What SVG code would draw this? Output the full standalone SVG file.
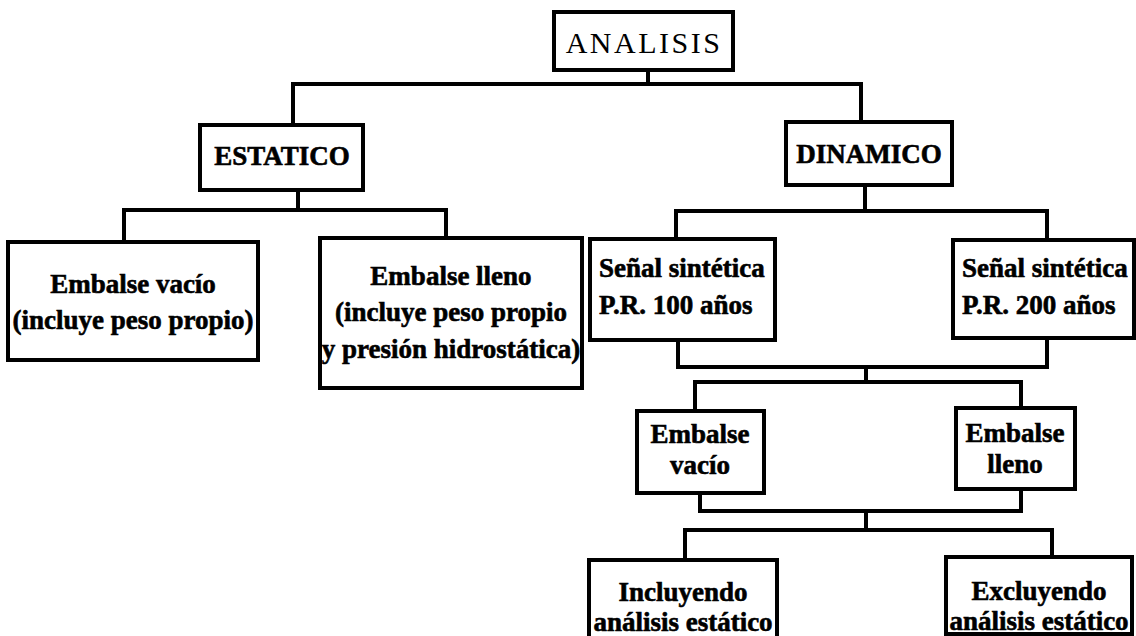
<svg xmlns="http://www.w3.org/2000/svg" width="1136" height="636" viewBox="0 0 1136 636">
  <style>
    .box { fill: #ffffff; stroke: #000000; stroke-width: 4; }
    .wire { fill: none; stroke: #000000; stroke-width: 4; stroke-linecap: square; }
    .t { font-family: "Liberation Serif", "Times New Roman", serif; fill: #000000; text-anchor: middle; }
    .b { font-weight: bold; font-size: 27px; stroke: #000000; stroke-width: 0.6px; }
    .l { text-anchor: start; }
    .root { font-size: 30px; letter-spacing: 2.5px; }
  </style>
  <rect width="1136" height="636" fill="#ffffff"/>

  <!-- tree connectors -->
  <g id="connectors" class="wire">
    <path d="M648 70 V84 M293 84 H861 M293 84 V125 M861 84 V122"/>
    <path d="M298 190 V210 M124 210 H446 M124 210 V242 M446 210 V238"/>
    <path d="M865 185 V211 M676 211 H1047 M676 211 V239 M1047 211 V240"/>
    <path d="M678 340 V367 M1047 338 V367 M678 367 H1047 M866 367 V382"/>
    <path d="M695 382 H1021 M695 382 V411 M1021 382 V408"/>
    <path d="M700 493 V511 M1021 489 V511 M700 511 H1021 M866 511 V530"/>
    <path d="M685 530 H1052 M685 530 V560 M1052 530 V557"/>
  </g>

  <g id="analisis">
    <rect class="box" x="554" y="12" width="179" height="58"/>
    <text class="t root" x="644" y="53">ANALISIS</text>
  </g>

  <g id="estatico">
    <rect class="box" x="200" y="125" width="163" height="65"/>
    <text class="t b" x="282" y="165">ESTATICO</text>
  </g>

  <g id="dinamico">
    <rect class="box" x="786" y="122" width="166" height="63"/>
    <text class="t b" x="869" y="163">DINAMICO</text>
  </g>

  <g id="embalse-vacio-estatico">
    <rect class="box" x="8" y="242" width="250" height="118"/>
    <text class="t b" x="133" y="293">Embalse vacío</text>
    <text class="t b" x="133" y="329">(incluye peso propio)</text>
  </g>

  <g id="embalse-lleno-estatico">
    <rect class="box" x="320" y="238" width="262" height="150"/>
    <text class="t b" x="451" y="285">Embalse lleno</text>
    <text class="t b" x="451" y="321">(incluye peso propio</text>
    <text class="t b" x="451" y="358">y presión hidrostática)</text>
  </g>

  <g id="senal-100">
    <rect class="box" x="590" y="239" width="185" height="101"/>
    <text class="t b l" x="599" y="277">Señal sintética</text>
    <text class="t b l" x="599" y="314">P.R. 100 años</text>
  </g>

  <g id="senal-200">
    <rect class="box" x="953" y="240" width="181" height="98"/>
    <text class="t b l" x="962" y="277">Señal sintética</text>
    <text class="t b l" x="962" y="314">P.R. 200 años</text>
  </g>

  <g id="embalse-vacio-dinamico">
    <rect class="box" x="637" y="411" width="127" height="82"/>
    <text class="t b" x="700" y="443">Embalse</text>
    <text class="t b" x="700" y="474">vacío</text>
  </g>

  <g id="embalse-lleno-dinamico">
    <rect class="box" x="956" y="408" width="119" height="81"/>
    <text class="t b" x="1015" y="442">Embalse</text>
    <text class="t b" x="1015" y="473">lleno</text>
  </g>

  <g id="incluyendo">
    <rect class="box" x="589" y="560" width="188" height="84"/>
    <text class="t b" x="683" y="601">Incluyendo</text>
    <text class="t b" x="683" y="631">análisis estático</text>
  </g>

  <g id="excluyendo">
    <rect class="box" x="946" y="557" width="186" height="77"/>
    <text class="t b" x="1039" y="600">Excluyendo</text>
    <text class="t b" x="1039" y="630">análisis estático</text>
  </g>
</svg>
